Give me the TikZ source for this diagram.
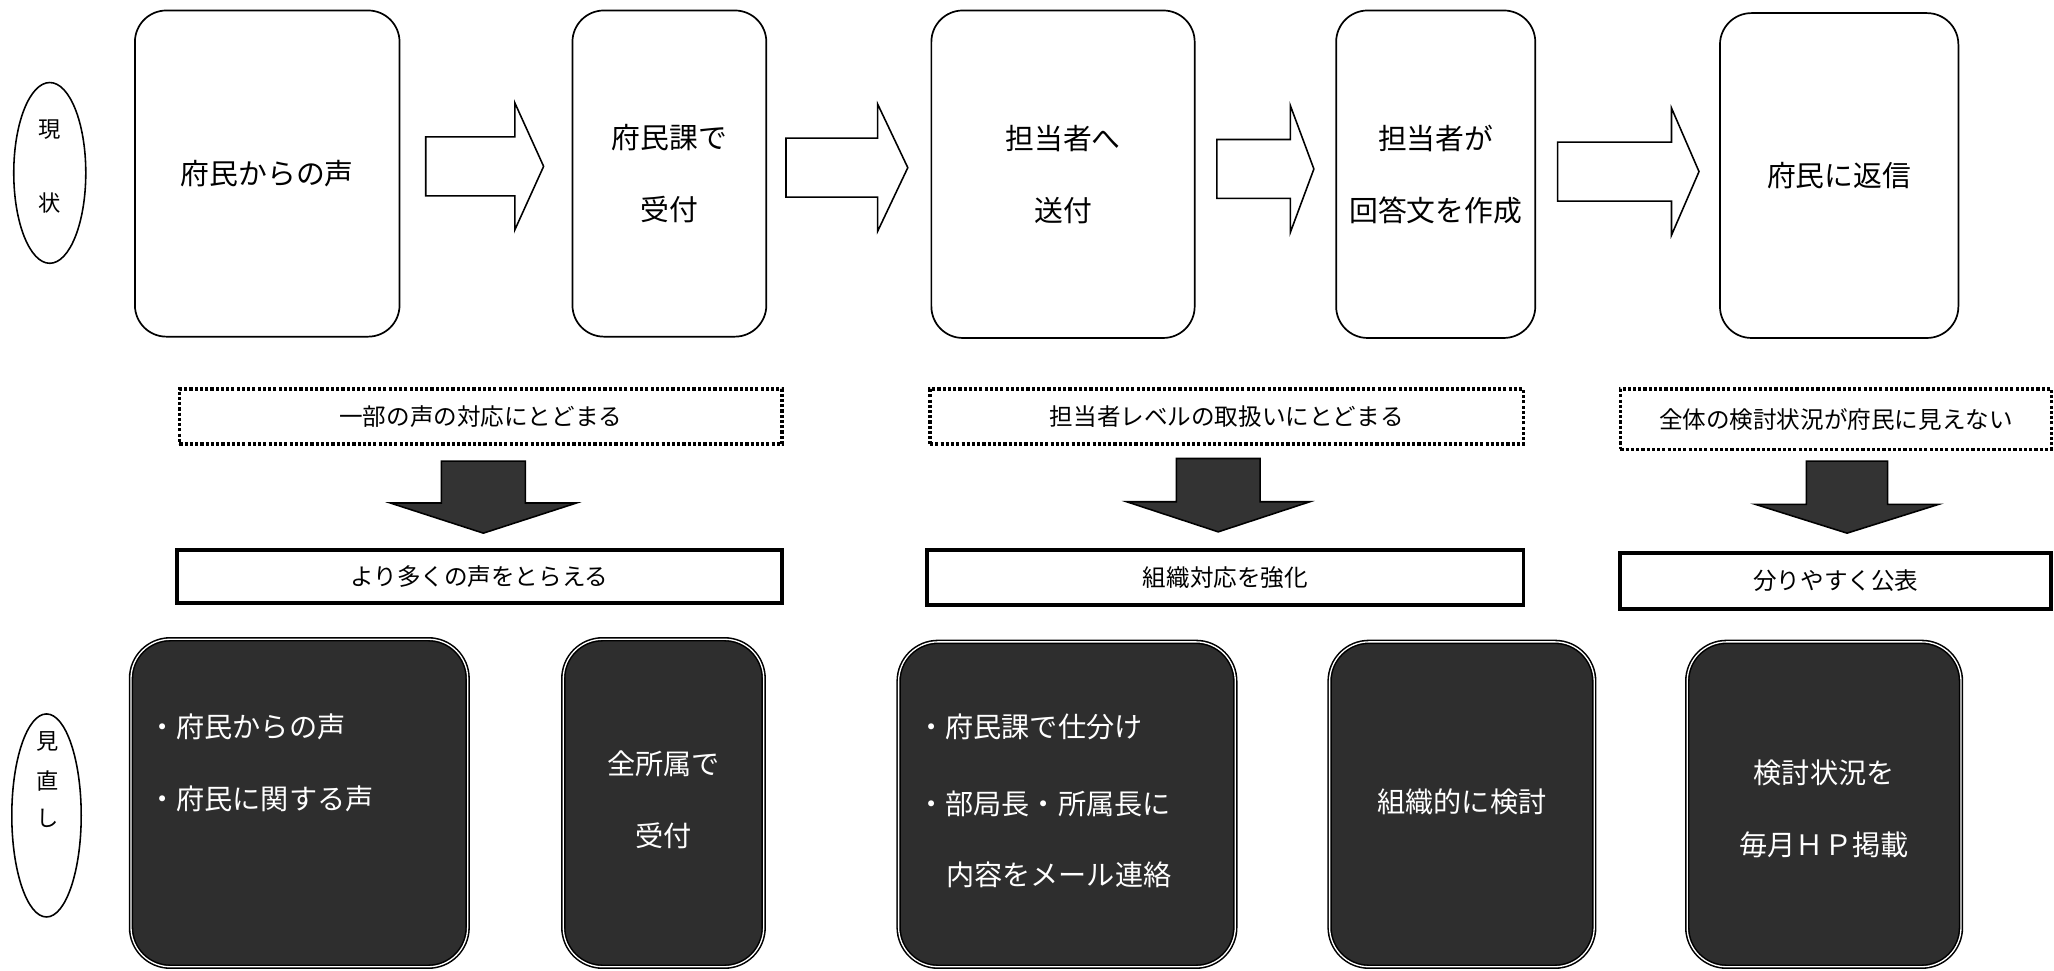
\documentclass[tikz,border=0pt]{standalone}
\usepackage{fontspec}
\newfontfamily\jp{Noto Sans CJK JP}
\usetikzlibrary{shapes.geometric}
\newcommand\rarr[5]{% name, x-start, shaft-end, tip, y-center
  \draw[rarrow] (#2,#5-22.5) -- (#3,#5-22.5) -- (#3,#5-48.5) -- (#4,#5) -- (#3,#5+48.5) -- (#3,#5+22.5) -- (#2,#5+22.5) -- cycle;
  \coordinate (#1) at (#3,#5);}
\newcommand\darr[7]{% name, cx, shaft half, head half, ytop, ybase, ytip
  \draw[darrow] (#2-#3,#5) -- (#2+#3,#5) -- (#2+#3,#6) -- (#2+#4,#6) -- (#2,#7) -- (#2-#4,#6) -- (#2-#3,#6) -- cycle;
  \coordinate (#1) at (#2,#6);}
\begin{document}
\begin{tikzpicture}[x=1pt,y=-1pt,
  every node/.style={font=\jp},
  topbox/.style={draw, line width=1.3pt, rounded corners=24pt, align=center,
    font=\jp\fontsize{22}{55}\selectfont, inner sep=0pt},
  rarrow/.style={draw, line width=1.2pt, fill=white},
  darrow/.style={draw=black, line width=1.2pt, fill=black!80},
  dbox/.style={draw, line width=2.6pt, dash pattern=on 2.4pt off 1.6pt,
    font=\jp\fontsize{18}{20}\selectfont, inner sep=0pt},
  sbox/.style={draw, line width=3pt, font=\jp\fontsize{18}{20}\selectfont, inner sep=0pt},
  bbox/.style={draw=black, line width=1.2pt, double=white, double distance=1pt,
    fill=black!82, rounded corners=30pt, inner sep=0pt},
  btext/.style={text=white, font=\jp\fontsize{21.5}{24}\selectfont, inner sep=0pt},
  lab/.style={draw, ellipse, line width=1.2pt, inner sep=0pt},
  labt/.style={font=\jp\fontsize{17}{18}\selectfont, inner sep=0pt}
]
\useasboundingbox (0,0) rectangle (1568,741);
\fill[white] (0,0) rectangle (1568,741);

% side labels
\node[lab, minimum width=55pt, minimum height=138pt] (gen) at (38,132) {};
\node[labt] (gen1) at (38,99) {現};
\node[labt] (gen2) at (38,155) {状};
\node[lab, minimum width=53pt, minimum height=155pt] (mi) at (35.5,622.5) {};
\node[labt] (mi1) at (36,566) {見};
\node[labt] (mi2) at (36,596) {直};
\node[labt] (mi3) at (36,625) {し};

% top row
\node[topbox, minimum width=202pt, minimum height=249pt] (b1) at (204,132.5) {府民からの声};
\node[topbox, minimum width=148pt, minimum height=249pt] (b2) at (511,132.5) {府民課で\\受付};
\node[topbox, minimum width=201pt, minimum height=250pt] (b3) at (811.5,133) {担当者へ\\送付};
\node[topbox, minimum width=152pt, minimum height=250pt] (b4) at (1096,133) {担当者が\\回答文を作成};
\node[topbox, minimum width=182pt, minimum height=248pt] (b5) at (1404,134) {府民に返信};

\rarr{r1}{325}{393}{415}{127}
\rarr{r2}{600}{670}{693}{128}
\rarr{r3}{929}{985}{1003}{129}
\rarr{r4}{1189}{1276}{1297}{131}

% problems
\node[dbox, minimum width=460pt, minimum height=42pt] (p1) at (367,318) {一部の声の対応にとどまる};
\node[dbox, minimum width=453pt, minimum height=42pt] (p2) at (936.5,318) {担当者レベルの取扱いにとどまる};
\node[dbox, minimum width=329pt, minimum height=46pt] (p3) at (1401.5,320) {全体の検討状況が府民に見えない};

\darr{d1}{369}{32}{71}{352}{384}{407}
\darr{d2}{930}{32}{70}{350}{383}{406}
\darr{d3}{1410}{31}{70}{352}{385}{407}

% goals
\node[sbox, minimum width=462pt, minimum height=40pt] (g1) at (366,440) {より多くの声をとらえる};
\node[sbox, minimum width=455pt, minimum height=42pt] (g2) at (935.5,441) {組織対応を強化};
\node[sbox, minimum width=329pt, minimum height=43pt] (g3) at (1401.5,443.5) {分りやすく公表};

% bottom row
\node[bbox, minimum width=257pt, minimum height=250pt] (k1) at (228.5,613) {};
\node[btext, anchor=west] (k1a) at (113,555) {・府民からの声};
\node[btext, anchor=west] (k1b) at (113,610) {・府民に関する声};
\node[bbox, minimum width=153pt, minimum height=250pt] (k2) at (506.5,613) {};
\node[btext] (k2a) at (506.5,583) {全所属で};
\node[btext] (k2b) at (506.5,638) {受付};
\node[bbox, minimum width=257pt, minimum height=248pt] (k3) at (814.5,614) {};
\node[btext, anchor=west] (k3a) at (700,555) {・府民課で仕分け};
\node[btext, anchor=west] (k3b) at (700,614) {・部局長・所属長に};
\node[btext, anchor=west] (k3c) at (722,668) {内容をメール連絡};
\node[bbox, minimum width=202pt, minimum height=248pt] (k4) at (1116,614) {};
\node[btext] (k4a) at (1116,612) {組織的に検討};
\node[bbox, minimum width=209pt, minimum height=248pt] (k5) at (1392.5,614) {};
\node[btext] (k5a) at (1392.5,590) {検討状況を};
\node[btext] (k5b) at (1392.5,645) {毎月ＨＰ掲載};
\end{tikzpicture}
\end{document}
